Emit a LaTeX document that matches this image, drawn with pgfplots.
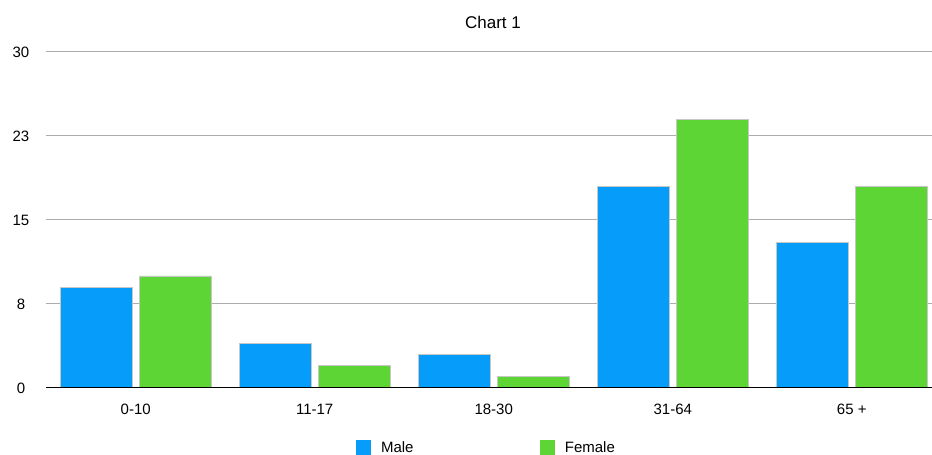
\documentclass[border=0pt]{standalone}
\usepackage{pgfplots}
\pgfplotsset{compat=1.18}
\usepackage{fontspec}
\setmainfont{Liberation Sans}

\definecolor{male}{RGB}{6,156,250}
\definecolor{female}{RGB}{93,214,53}
\definecolor{gridgray}{RGB}{172,172,172}

\begin{document}
\begin{tikzpicture}[x=1pt,y=1pt]
\useasboundingbox (0,0) rectangle (932,455);
\begin{axis}[
    at={(46pt,67pt)}, anchor=south west,
    scale only axis,
    width=886pt, height=336pt,
    xmin=-0.501, xmax=4.448,
    ymin=0, ymax=30,
    axis x line*=bottom,
    axis y line*=left,
    y axis line style={draw=none},
    x axis line style={draw=none},
    major tick length=0pt,
    xtick={0,1,2,3,4},
    xticklabels={0-10,11-17,18-30,31-64,65 +},
    ytick={0,7.5,15,22.5,30},
    yticklabels={0,8,15,23,30},
    ymajorgrids,
    grid style={gridgray, line width=1pt},
    /pgf/number format/assume math mode=true,
    ticklabel style={font=\fontsize{15pt}{17pt}\selectfont},
    xticklabel style={anchor=center, yshift=-21pt},
    yticklabel style={anchor=center, xshift=-25pt},
    title={Chart 1},
    title style={font=\fontsize{17pt}{19pt}\selectfont, at={(0.5,1)}, anchor=center, yshift=24pt, xshift=4pt},
    bar width=0.4,
    legend columns=2,
    legend style={
        draw=none,
        at={(0.497,-0.178)}, anchor=center,
        font=\fontsize{15pt}{17pt}\selectfont,
        /tikz/every even column/.append style={column sep=124pt},
    },
    legend cell align=left,
    legend image code/.code={\fill[#1,draw=none] (0pt,-7.5pt) rectangle (15pt,7.5pt); \path (23pt,0pt);},
]
\addplot[ybar, bar shift=-0.22, fill=male, draw=black!22, line width=0.6pt]
    coordinates {(0,9) (1,4) (2,3) (3,18) (4,13)};
\addplot[ybar, bar shift=0.22, fill=female, draw=black!22, line width=0.6pt]
    coordinates {(0,10) (1,2) (2,1) (3,24) (4,18)};
\draw[black, line width=1.3pt] (rel axis cs:0,0) -- (rel axis cs:1,0);
\legend{Male,Female}
\end{axis}
\end{tikzpicture}
\end{document}
